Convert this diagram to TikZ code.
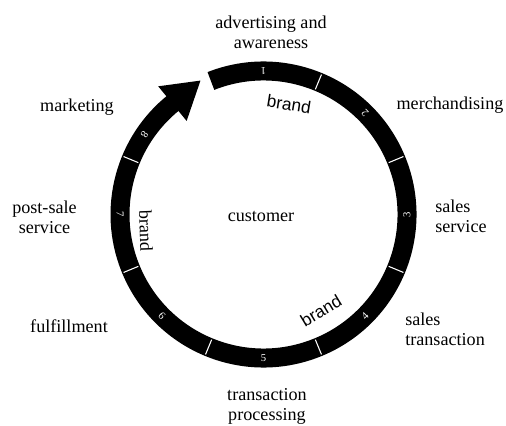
\documentclass[tikz,border=0pt]{standalone}
\usepackage{fontspec}
\setmainfont{Liberation Serif}
\newfontfamily\brandfont{Liberation Sans}
\usetikzlibrary{calc}
\begin{document}
\begin{tikzpicture}[x=0.75pt,y=0.75pt,
  label/.style={font=\fontsize{13.6}{15}\selectfont, inner sep=0pt, align=center},
  brandlabel/.style={font=\brandfont\fontsize{13}{15}\selectfont, inner sep=0pt},
  divider/.style={draw=white, line width=0.8pt},
  digit/.style={text=white, font=\fontsize{8}{8}\selectfont, inner sep=0pt}]
\useasboundingbox (0,0) rectangle (506,425);

% ring centre
\coordinate (C) at (263.5,210.5);

% cycle ring: clockwise from the gap, ending under the arrow head
\draw[line width=14.25pt] ($(C)+(111.5:143.5)$) arc[start angle=111.5, end angle=-231.5, radius=143.5];

% arrow head
\coordinate (B) at ($(C)+(129.4:143.5)$);
\coordinate (H1) at ($(C)+(129.4:121.1)$);
\coordinate (H2) at ($(C)+(129.4:165.9)$);
\coordinate (T) at ($(B)+(39.4:36.3)$);
\fill (H1) -- (H2) -- (T) -- cycle;

% segment dividers
\foreach \a in {67.5,22.5,-22.5,-67.5,-112.5,-157.5,157.5}
  \draw[divider] ($(C)+(\a:135.5)$) -- ($(C)+(\a:151.5)$);

% step numbers
\foreach \a/\n in {90/1,45/2,0/3,-45/4,-90/5,-135/6,180/7,146/8}
  \node[digit, rotate=\a+90] (d\n) at ($(C)+(\a:143.5)$) {\n};

% stage labels
\node[label] (adv) at (271,393) {advertising and\\awareness};
\node[label] (mer) at (450,320) {merchandising};
\node[label, anchor=west, align=left] (ser) at (435,209) {sales\\service};
\node[label, anchor=west, align=left] (tra) at (405,96) {sales\\transaction};
\node[label] (pro) at (267,19) {transaction\\processing};
\node[label] (ful) at (69,99) {fulfillment};
\node[label] (pss) at (44.5,208) {post-sale\\service};
\node[label] (mkt) at (77,318) {marketing};
\node[label] (cus) at (261,209) {customer};

% brand labels inside the ring
\node[brandlabel, rotate=-9] (b1) at (289,321) {brand};
\node[brandlabel, font=\fontsize{13.6}{15}\selectfont, rotate=-88] (b2) at (146,194) {brand};
\node[brandlabel, rotate=31] (b3) at (321,114) {brand};
\end{tikzpicture}
\end{document}
